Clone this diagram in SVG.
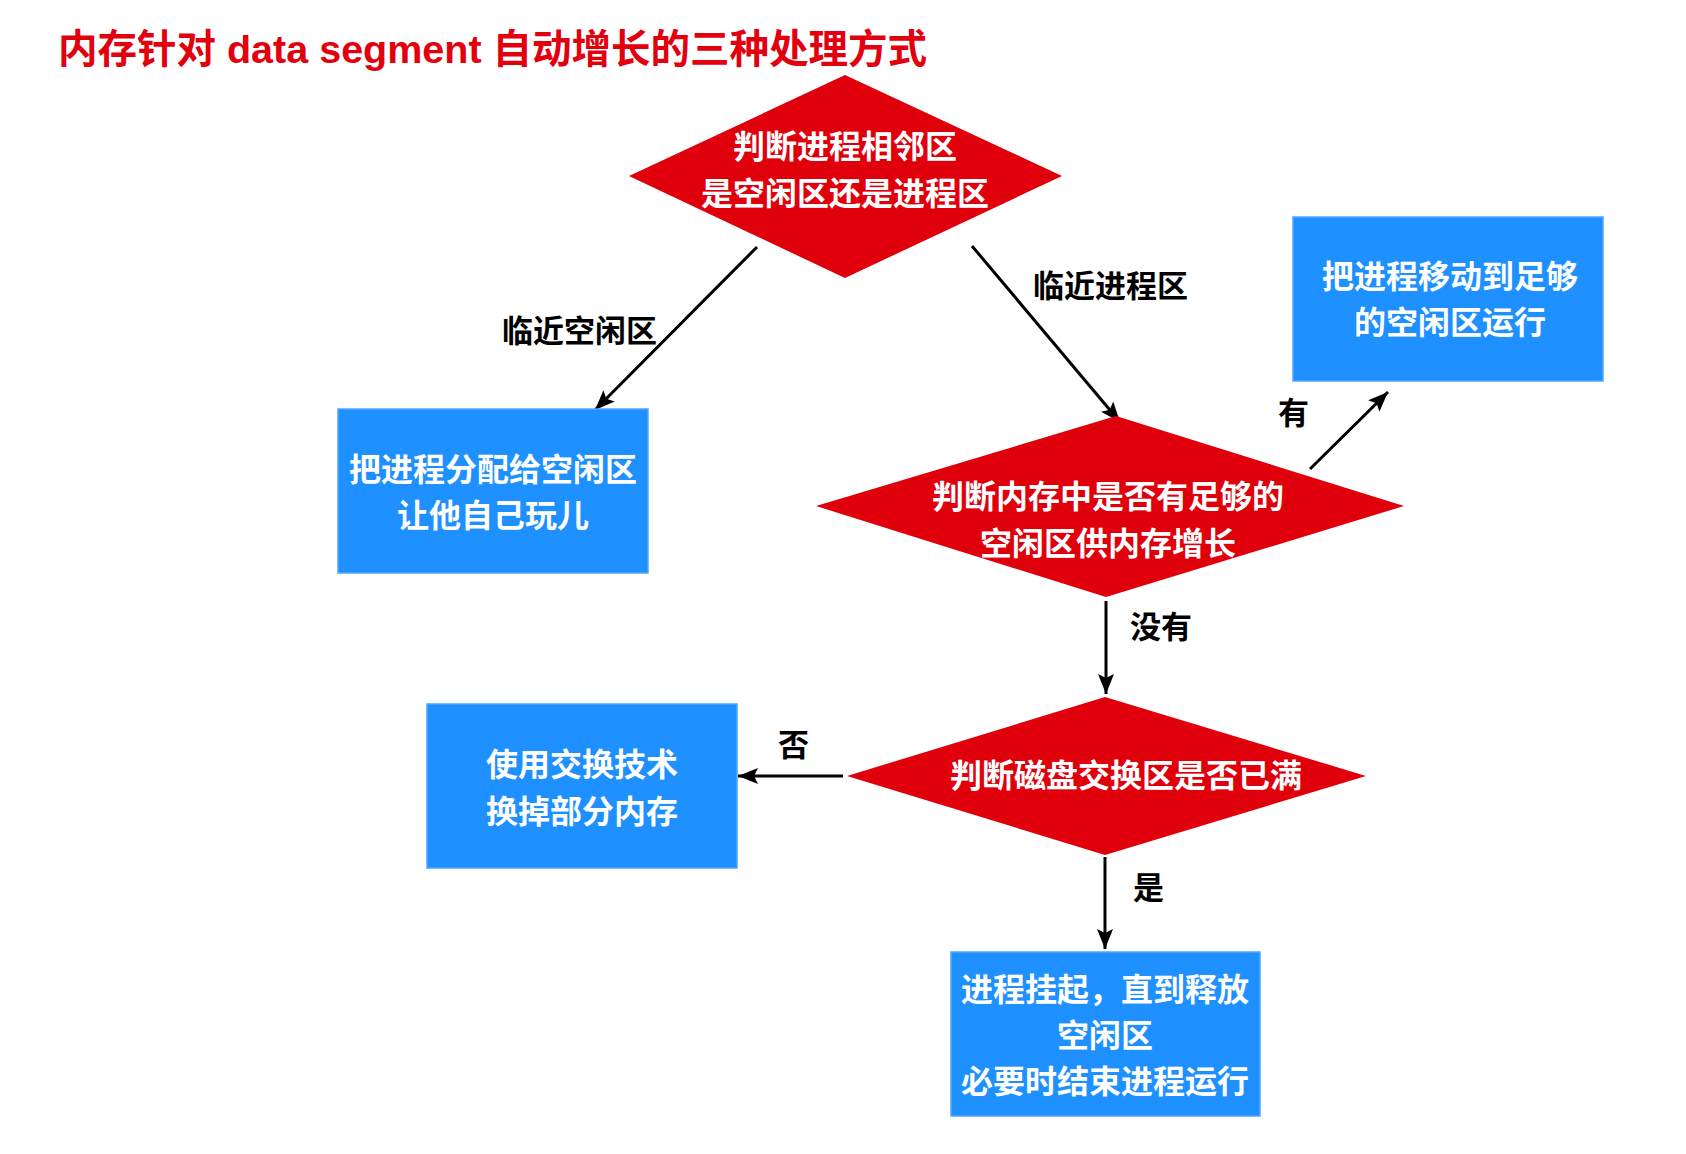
<svg xmlns="http://www.w3.org/2000/svg" width="1686" height="1154" viewBox="0 0 1686 1154">
<defs>
<style>
.t{font-family:"Liberation Sans","Noto Sans CJK SC",sans-serif;}
.title{font-size:39.5px;font-weight:bold;fill:#E3000E;}
.dia{fill:#E0000B;}
.box{fill:#1E90FF;stroke:#4DA6FF;stroke-width:1.5;}
.wt{font-size:32px;font-weight:bold;fill:#ffffff;text-anchor:middle;}
.lb{font-size:31px;font-weight:bold;fill:#000000;}
.ln{stroke:#000;stroke-width:3;fill:none;marker-end:url(#ah);}
</style>
<marker id="ah" markerUnits="userSpaceOnUse" markerWidth="22" markerHeight="16" refX="20" refY="8" orient="auto">
<path d="M0,0 L20,8 L0,16 L4,8 z" fill="#000"/>
</marker>
</defs>
<rect width="1686" height="1154" fill="#ffffff"/>
<text class="t title" x="58" y="63">内存针对 data segment 自动增长的三种处理方式</text>

<g id="connectors">
<line class="ln" x1="757" y1="247" x2="595" y2="410"/>
<line class="ln" x1="972" y1="246" x2="1120" y2="422"/>
<line class="ln" x1="1310" y1="469" x2="1388" y2="392"/>
<line class="ln" x1="1106" y1="601" x2="1106" y2="694"/>
<line class="ln" x1="843" y1="776" x2="738" y2="776"/>
<line class="ln" x1="1105" y1="857" x2="1105" y2="949"/>
<text class="t lb" x="502" y="342">临近空闲区</text>
<text class="t lb" x="1033" y="297">临近进程区</text>
<text class="t lb" x="1278" y="424">有</text>
<text class="t lb" x="1130" y="638">没有</text>
<text class="t lb" x="778" y="756">否</text>
<text class="t lb" x="1133" y="899">是</text>
</g>

<g id="d1">
<polygon class="dia" points="845,75 1062,176 845,278 629,176"/>
<text class="t wt" x="845" y="158">判断进程相邻区</text>
<text class="t wt" x="845" y="205">是空闲区还是进程区</text>
</g>

<g id="d2">
<polygon class="dia" points="1116,416 1404,506 1106,597 816,506"/>
<text class="t wt" x="1108" y="508">判断内存中是否有足够的</text>
<text class="t wt" x="1108" y="555">空闲区供内存增长</text>
</g>

<g id="d3">
<polygon class="dia" points="1105,697 1366,776 1105,855 847,776"/>
<text class="t wt" x="1126" y="787">判断磁盘交换区是否已满</text>
</g>

<g id="b1">
<rect class="box" x="338" y="409" width="310" height="164"/>
<text class="t wt" x="493" y="481">把进程分配给空闲区</text>
<text class="t wt" x="493" y="527">让他自己玩儿</text>
</g>

<g id="b2">
<rect class="box" x="1293" y="217" width="310" height="164"/>
<text class="t wt" x="1450" y="288">把进程移动到足够</text>
<text class="t wt" x="1450" y="334">的空闲区运行</text>
</g>

<g id="b3">
<rect class="box" x="427" y="704" width="310" height="164"/>
<text class="t wt" x="582" y="776">使用交换技术</text>
<text class="t wt" x="582" y="823">换掉部分内存</text>
</g>

<g id="b4">
<rect class="box" x="951" y="952" width="309" height="164"/>
<text class="t wt" x="1105" y="1001">进程挂起，直到释放</text>
<text class="t wt" x="1105" y="1047">空闲区</text>
<text class="t wt" x="1105" y="1093">必要时结束进程运行</text>
</g>
</svg>
